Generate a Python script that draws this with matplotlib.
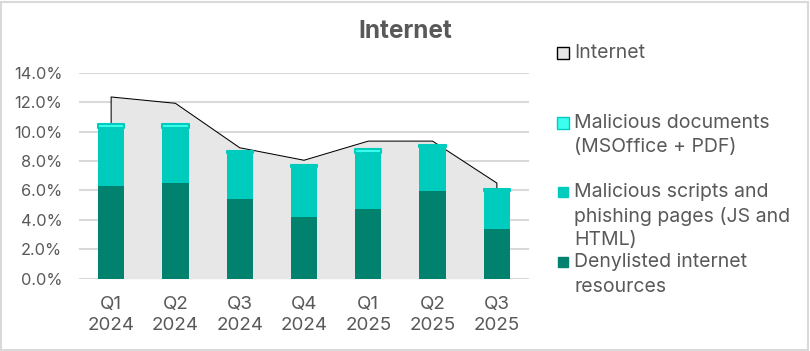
import numpy as np
import matplotlib
matplotlib.use("Agg")
import matplotlib.pyplot as plt
from matplotlib.patches import Rectangle

plt.rcParams['font.family'] = ['Inter', 'DejaVu Sans']

categories = ["Q1\n2024", "Q2\n2024", "Q3\n2024", "Q4\n2024", "Q1\n2025", "Q2\n2025", "Q3\n2025"]
internet = [12.35, 11.92, 8.9, 8.05, 9.35, 9.35, 6.5]
denylisted = [6.3, 6.5, 5.42, 4.19, 4.74, 5.96, 3.38]
scripts = [3.95, 3.75, 3.14, 3.42, 3.8, 3.01, 2.6]
documents = [0.25, 0.25, 0.1, 0.1, 0.25, 0.1, 0.1]
yticks = [0, 2, 4, 6, 8, 10, 12, 14]
title = "Internet"
legend_labels = ["Internet", "Malicious documents\n(MSOffice + PDF)",
                 "Malicious scripts and\nphishing pages (JS and\nHTML)",
                 "Denylisted internet\nresources"]

C_AREA = '#E7E7E7'
C_DENY = '#00826F'
C_SCR = '#00CCBE'
C_DOC = '#3DFFF0'
C_TXT = '#595959'
C_GRID = '#D9D9D9'

W, H = 810, 351
fig = plt.figure(figsize=(W / 100, H / 100), dpi=100)
ax = fig.add_axes([79 / W, 1 - 278.7 / H, 450 / W, 206 / H])

x = np.arange(len(categories))
deny = np.array(denylisted)
scr = np.array(scripts)
doc = np.array(documents)

# area
ax.fill_between(x, 0, internet, color=C_AREA, lw=0, zorder=1)
ox = np.concatenate([[x[0]], x, [x[-1]]])
oy = np.concatenate([[0], internet, [0]])
ax.plot(ox, oy, color='black', lw=0.75, zorder=1.5)

bw = 0.41
ax.bar(x, deny, width=bw, color=C_DENY, lw=0, zorder=3)
ax.bar(x, scr, width=bw, bottom=deny, color=C_SCR, lw=0, zorder=3)
bars = ax.bar(x, doc, width=bw, bottom=deny + scr, color=C_DOC,
              edgecolor=C_SCR, lw=1.5, zorder=3.5)
for b in bars:
    b.set_joinstyle('round')

ax.set_xlim(-0.5, len(categories) - 0.5)
ax.set_ylim(0, 14)
ax.set_yticks(yticks)
ax.set_yticklabels([f"{v:.1f}%" for v in yticks], fontsize=11.8, color=C_TXT)
ax.set_xticks(x)
ax.set_xticklabels(categories, fontsize=13.5, color=C_TXT, linespacing=1.3)
ax.tick_params(axis='both', length=0)
ax.tick_params(axis='y', pad=12)
ax.tick_params(axis='x', pad=12.5)
for s in ax.spines.values():
    s.set_visible(False)
ax.yaxis.grid(True, color=C_GRID, lw=1.5, zorder=0)
ax.set_axisbelow(True)

fig.text(405 / W, 1 - 31.5 / H, title, ha='center', va='center', fontsize=17.5,
         fontweight='bold', color=C_TXT)

# legend
mk = [(557, 46.7, 12, C_AREA, 'black'), (557, 116.7, 12, C_DOC, C_SCR),
      (558, 187, 10, C_SCR, C_SCR), (558, 257, 10, C_DENY, C_DENY)]
line_y = [[52.7], [122.7, 146.7], [191.7, 216.7, 240.0], [261.7, 286.7]]
for (mx, my, ms, fc, ec), lab, ys in zip(mk, legend_labels, line_y):
    fig.patches.append(Rectangle((mx / W, 1 - (my + ms) / H), ms / W, ms / H,
                                 transform=fig.transFigure, facecolor=fc,
                                 edgecolor=ec, lw=1.0))
    for line, yy in zip(lab.split("\n"), ys):
        fig.text(574 / W, 1 - yy / H, line, ha='left', va='center',
                 fontsize=14, color=C_TXT)

fig.patches.append(Rectangle((0.75 / W, 1.5 / H), 807.5 / W, 347.5 / H,
                             transform=fig.transFigure, fill=False,
                             edgecolor=C_GRID, lw=1.5))

fig.savefig("out.png", dpi=100)
